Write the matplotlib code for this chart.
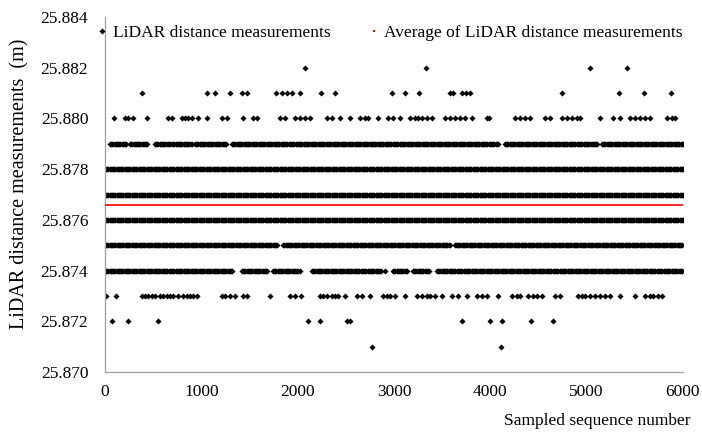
import numpy as np
import matplotlib
matplotlib.use('Agg')
import matplotlib.pyplot as plt
from matplotlib.lines import Line2D

plt.rcParams['font.family'] = ['Liberation Serif', 'DejaVu Serif']

# Rozsah osí
n_samples = 6000
average_value = 25.8766

# Husté úseky meraní na danej úrovni (od, do) – poradové čísla vzoriek
runs_25879 = [(52, 228), (260, 446), (519, 675), (696, 903), (934, 1266),
              (1318, 4080), (4152, 5118), (5159, 6000)]
runs_25878 = [(0, 6000)]
runs_25877 = [(0, 6000)]
runs_25876 = [(0, 6000)]
runs_25875 = [(0, 1790), (1850, 3580), (3630, 6000)]
runs_25874 = [(0, 1329), (1422, 1692), (1744, 2024), (2149, 2875),
              (2990, 3135), (3197, 3374), (3446, 6000)]

# Ojedinelé merania
points_25882 = [2076, 3332, 5035, 5419]
points_25881 = [384, 1059, 1142, 1298, 1422, 1474, 1775, 1837, 1889, 1941,
                2024, 2242, 2387, 2979, 3114, 3260, 3581, 3612, 3706, 3747,
                3789, 4744, 5335, 5595, 5875]
points_25880 = [93, 208, 239, 291, 436, 654, 696, 799, 830, 862, 903, 965,
                1059, 1215, 1267, 1433, 1537, 1578, 1817, 1869, 1972, 2024,
                2076, 2128, 2305, 2357, 2440, 2543, 2647, 2699, 2730, 2834,
                2938, 2990, 3062, 3166, 3218, 3249, 3291, 3343, 3395, 3530,
                3581, 3633, 3685, 3737, 3810, 3966, 3986, 4256, 4308, 4360,
                4412, 4568, 4619, 4744, 4796, 4848, 4900, 4931, 5139, 5274,
                5346, 5450, 5502, 5554, 5606, 5658, 5834, 5886, 5917]
points_25874 = [2907]
points_25873 = [10, 114, 384, 415, 446, 488, 519, 571, 602, 644, 675, 706,
                758, 810, 851, 882, 914, 955, 1215, 1246, 1298, 1350, 1433,
                1474, 1713, 1921, 1972, 2034, 2232, 2263, 2305, 2357, 2388,
                2419, 2491, 2616, 2668, 2751, 2886, 2927, 2959, 3010, 3114,
                3239, 3291, 3343, 3374, 3426, 3498, 3602, 3665, 3758, 3862,
                3914, 3966, 4080, 4225, 4277, 4308, 4391, 4443, 4484, 4536,
                4671, 4723, 4910, 4952, 4983, 5035, 5087, 5139, 5190, 5242,
                5346, 5502, 5606, 5658, 5689, 5741, 5782]
points_25872 = [73, 239, 550, 2107, 2232, 2512, 2543, 3706, 3997, 4121,
                4422, 4651]
points_25871 = [2772, 4111]

runs_by_level = {25.879: runs_25879, 25.878: runs_25878, 25.877: runs_25877,
                 25.876: runs_25876, 25.875: runs_25875, 25.874: runs_25874}
points_by_level = {25.882: points_25882, 25.881: points_25881,
                   25.880: points_25880, 25.874: points_25874,
                   25.873: points_25873, 25.872: points_25872,
                   25.871: points_25871}

xs, ys = [], []
for level, runs in runs_by_level.items():
    for start, end in runs:
        seq = np.arange(start, end + 1, 12)
        xs.extend(seq)
        ys.extend([level] * len(seq))
for level, pts in points_by_level.items():
    xs.extend(pts)
    ys.extend([level] * len(pts))

fig = plt.figure(figsize=(7.02, 4.32), dpi=100)
ax = fig.add_axes([105 / 702, 1 - 372 / 432, 578 / 702, 355 / 432])

ax.plot(xs, ys, linestyle='none', marker='D', markersize=3.1,
        markeredgewidth=0, color='black', zorder=2)
ax.axhline(average_value, color='#ff0000', linewidth=1.2, zorder=3)

ax.set_xlim(0, n_samples)
ax.set_ylim(25.870, 25.884)
ax.set_xticks(np.arange(0, 6001, 1000))
yticks = np.arange(25.870, 25.8841, 0.002)
ax.set_yticks(yticks)
ax.set_yticklabels([f'{v:.3f}' for v in yticks])
ax.tick_params(length=0, labelsize=12.5, colors='black')
ax.tick_params(axis='y', pad=12)
ax.tick_params(axis='x', pad=9)

for side in ['top', 'right']:
    ax.spines[side].set_visible(False)
for side in ['left', 'bottom']:
    ax.spines[side].set_color('#a6a6a6')
    ax.spines[side].set_linewidth(1.0)

fig.text(20 / 702, 1 - 184 / 432, 'LiDAR distance measurements  (m)',
         rotation=90, ha='center', va='center', fontsize=14.5)
fig.text(690 / 702, 1 - 421 / 432, 'Sampled sequence number',
         ha='right', va='center', fontsize=12.5)

handles = [Line2D([], [], linestyle='none', marker='D', markersize=3.1,
                  markeredgewidth=0, color='black'),
           Line2D([], [], linestyle='none', marker='s', markersize=1.8,
                  markeredgewidth=0, color='#ff0000')]
ax.legend(handles, ['LiDAR distance measurements',
                    'Average of LiDAR distance measurements'],
          ncol=2, frameon=False, fontsize=12.5, loc='center left',
          bbox_to_anchor=(-0.012, 1 - 16 / 355), handlelength=0.5,
          handletextpad=0.35, columnspacing=2.25, borderaxespad=0,
          borderpad=0)

fig.savefig('out.png', dpi=100)
